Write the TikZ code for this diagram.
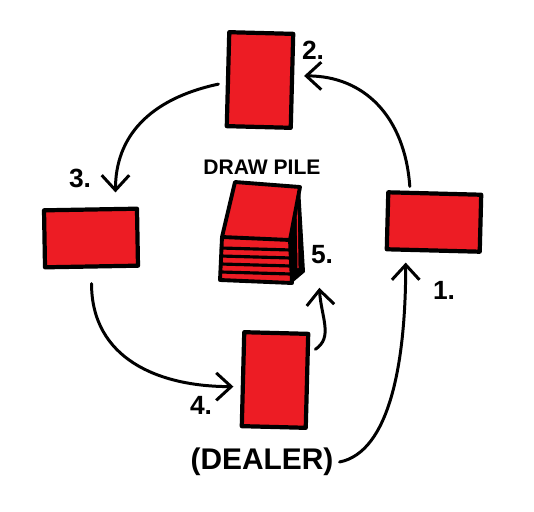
\documentclass[tikz,border=0pt]{standalone}
\usepackage{fontspec}
\setmainfont{Liberation Sans}
\usetikzlibrary{arrows.meta,positioning}
\definecolor{cardred}{HTML}{ED1C24}

\begin{document}
\begin{tikzpicture}[
        x=0.02cm, y=-0.02cm,
        font=\bfseries,
        card/.style={draw=black, fill=cardred, line width=2.4pt, line join=round, inner sep=0pt},
        tallcard/.style={card, minimum width=1.28cm, minimum height=1.88cm},
        widecard/.style={card, minimum width=1.86cm, minimum height=1.14cm},
        num/.style={font=\fontsize{15}{18}\selectfont\bfseries},
        pileline/.style={draw=black, line width=2.2pt, line join=round, line cap=round},
        turn/.style={draw=black, line width=1.7pt, line cap=round, -{Straight Barb[length=3mm,width=5.5mm,line width=1.7pt]}}
    ]
        \useasboundingbox (0,0) rectangle (534,511);

        % the four hands
        \node[widecard, rotate=-1.5] (first) at (434,222) {};
        \node[tallcard, rotate=-1.5] (second) at (260,80) {};
        \node[widecard, rotate=1] (third) at (91,238) {};
        \node[tallcard, rotate=-1.5] (fourth) at (275,380) {};

        % draw pile
        \node[minimum width=1.68cm, minimum height=2.08cm] (pile) at (262,233) {};
        \fill[cardred] (222,237) -- (290,240) -- (292,283) -- (220,280) -- cycle;
        \foreach \y in {248,256,264,272}
            \draw[pileline, line width=1.8pt] (221,\y) -- (291,\y+2);
        \draw[pileline] (222,237) -- (220,280) -- (292,283) -- (290,240);
        \fill[black] (290,240) -- (300,187) -- (305,272) -- (292,283) -- cycle;
        \draw[cardred, line width=0.6pt] (297,200) -- (298,268);
        \draw[pileline, fill=cardred] (235,182) -- (300,187) -- (290,240) -- (222,237) -- cycle;
        \node[font=\fontsize{12}{14}\selectfont\bfseries, above=0pt of pile] (pilename) {DRAW PILE};

        % labels
        \node[num] (firstnum) at (444,290) {1.};
        \node[num] (secondnum) at (313,50) {2.};
        \node[num] (thirdnum) at (80,178) {3.};
        \node[num] (fourthnum) at (201,405) {4.};
        \node[num] (pilenum) at (322,255) {5.};
        \node[font=\fontsize{17}{20}\selectfont\bfseries] (dealer) at (262,462) {(DEALER)};

        \draw[turn] ([xshift=-5mm, yshift=1mm]first.north) .. controls +(-5,-70) and +(60,0) .. ([xshift=2mm, yshift=1mm]second.east);
        \draw[turn] ([xshift=-1.5mm, yshift=-1mm]second.west) .. controls +(-70,15) and +(0,-55) .. ([xshift=5mm, yshift=3mm]third.north);
        \draw[turn] ([yshift=-3mm]third.south) .. controls +(0,75) and +(-75,0) .. ([xshift=-1.5mm, yshift=-1.5mm]fourth.west);
        \draw[turn] ([xshift=1mm, yshift=-3.5mm]fourth.north east) .. controls +(18,-12) and +(2,30) .. ([xshift=3mm, yshift=-0.5mm]pile.south east);
        \draw[turn] (dealer.east) .. controls +(50,-10) and +(0,100) .. ([xshift=-5.5mm, yshift=-2mm]first.south);
    \end{tikzpicture}
\end{document}
